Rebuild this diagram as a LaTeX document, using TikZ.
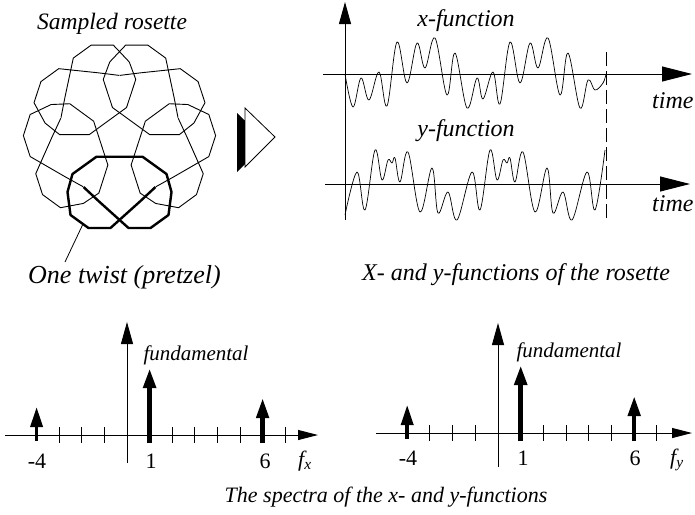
\documentclass[tikz,border=0pt]{standalone}
\usepackage{fontspec}
\setmainfont{Liberation Serif}
\usetikzlibrary{arrows.meta}
\tikzset{
  captxt/.style={font=\fontsize{24}{28}\selectfont\itshape, inner sep=0pt},
  smalltxt/.style={font=\fontsize{21}{25}\selectfont\itshape, inner sep=0pt},
  numtxt/.style={font=\fontsize{22}{26}\selectfont, inner sep=0pt},
  axisline/.style={line width=1pt},
  uptip/.style={-{Triangle[length=22pt,width=12pt]}},
  righttip/.style={-{Triangle[length=30pt,width=15pt]}},
  spectip/.style={-{Triangle[length=20pt,width=10pt]}},
  spike/.style={line width=#1, -{Triangle[length=20pt,width=12pt]}},
  rosethin/.style={line width=0.9pt, line join=round},
  rosebold/.style={line width=2.4pt, line join=round},
  wave/.style={line width=0.7pt, line join=round},
  tickline/.style={line width=1pt}
}
\def\twistpath{(-36,50) (-21,64) (9,91) (31,91) (49,78) (52,55) (47,37) (23,19.7)
  (-23,19.7) (-47,37) (-52,55) (-49,78) (-31,91) (-9,91) (21,64) (36,50)}
\begin{document}
\begin{tikzpicture}[x=1pt,y=-1pt]
\useasboundingbox (0,0) rectangle (695,514);

% ---------- rosette ----------
\node[captxt, font=\fontsize{23.5}{28}\selectfont\itshape, anchor=base] (title) at (112,29) {Sampled rosette};
\begin{scope}[shift={(119.5,137)}]
  \foreach \k in {1,2,3,4}
    \draw[rosethin, rotate=72*\k] plot coordinates {\twistpath};
  \draw[rosebold] plot coordinates {\twistpath};
\end{scope}
\coordinate (tw) at (83,224);
\coordinate (twend) at (65,262);
\draw[line width=0.8pt] (tw) -- (twend);
\node[captxt, font=\fontsize{26}{30}\selectfont\itshape, anchor=base west] (twist) at (28,283) {One twist (pretzel)};

% ---------- transform arrow ----------
\fill[black] (237,113) -- (237,172) -- (267,142) -- cycle;
\filldraw[fill=white, draw=black, line width=0.8pt] (245,108) -- (245,167) -- (275,137) -- cycle;

% ---------- time functions ----------
\draw[axisline, uptip] (345,220) -- (345,2);
\draw[axisline, righttip] (323,74) -- (692,74);
\draw[axisline, righttip] (325,184) -- (690,184);
\draw[line width=0.8pt, dash pattern=on 14pt off 5pt] (606,52) -- (606,220);
\draw[wave] plot[smooth, tension=0.6] coordinates {
  (345,74) (353,107) (361,78) (369,100) (379,72) (387,106) (397,42) (407,83)
  (417,43) (425,68) (435,38) (447,95) (455,53) (467,108) (477,78) (483,99)
  (493,72) (500,104) (510,42) (520,83) (530,43) (538,68) (548,38) (560,95)
  (568,53) (580,108) (588,80) (595,90) (603,83) (606,74)};
\draw[wave] plot[smooth, tension=0.6] coordinates {
  (345,215) (357,172) (365,210) (375,150) (382,180) (388,160) (392,163) (395,158)
  (400,182) (408,152) (420,212) (432,168) (438,213) (448,192) (457,220) (472,172)
  (480,210) (490,150) (497,180) (503,160) (507,163) (510,158) (515,182) (523,152)
  (535,212) (547,168) (553,213) (563,192) (572,220) (587,172) (595,210) (605,150)};
\node[captxt, anchor=base] (xfun) at (466,26) {x-function};
\node[captxt, anchor=base] (yfun) at (466,136) {y-function};
\node[captxt, anchor=base west] (time1) at (652,108) {time};
\node[captxt, anchor=base west] (time2) at (652,211) {time};
\node[captxt, anchor=base west] (capxy) at (362,280) {X- and y-functions of the rosette};

% ---------- left spectrum ----------
\draw[axisline, spectip] (5,435) -- (318,435);
\draw[axisline, uptip] (127,463) -- (127,322);
\foreach \k in {-3,-2,-1,2,3,4,5,7}
  \draw[tickline] ({127+22.6*\k},427) -- ({127+22.6*\k},443);
\draw[spike=3.5pt] (36.6,441) -- (36.6,407);
\draw[spike=5pt] (149.6,443) -- (149.6,368);
\draw[spike=4.5pt] (262.6,443) -- (262.6,398);
\node[smalltxt, anchor=base] (fund1) at (196,360) {fundamental};
\node[numtxt, anchor=base] (l4) at (37,468) {-4};
\node[numtxt, anchor=base] (l1) at (151,468) {1};
\node[numtxt, anchor=base] (l6) at (265,468) {6};
\node[numtxt, font=\fontsize{22}{26}\selectfont\itshape, anchor=base west] (fx) at (298,466) {f\textsubscript{x}};

% ---------- right spectrum ----------
\draw[axisline, spectip] (376,433) -- (692,433);
\draw[axisline, uptip] (498,467) -- (498,323);
\foreach \k in {-3,-2,-1,2,3,4,5,7}
  \draw[tickline] ({498+22.7*\k},425) -- ({498+22.7*\k},441);
\draw[spike=3.5pt] (407.2,439) -- (407.2,405);
\draw[spike=5pt] (520.7,441) -- (520.7,365);
\draw[spike=4.5pt] (634.2,441) -- (634.2,396);
\node[smalltxt, anchor=base] (fund2) at (569,357) {fundamental};
\node[numtxt, anchor=base] (r4) at (408,465) {-4};
\node[numtxt, anchor=base] (r1) at (523,465) {1};
\node[numtxt, anchor=base] (r6) at (635,465) {6};
\node[numtxt, font=\fontsize{22}{26}\selectfont\itshape, anchor=base west] (fy) at (670,464) {f\textsubscript{y}};

\node[captxt, font=\fontsize{22}{26}\selectfont\itshape, anchor=base] (capspec) at (386,502) {The spectra of the x- and y-functions};
\end{tikzpicture}
\end{document}
